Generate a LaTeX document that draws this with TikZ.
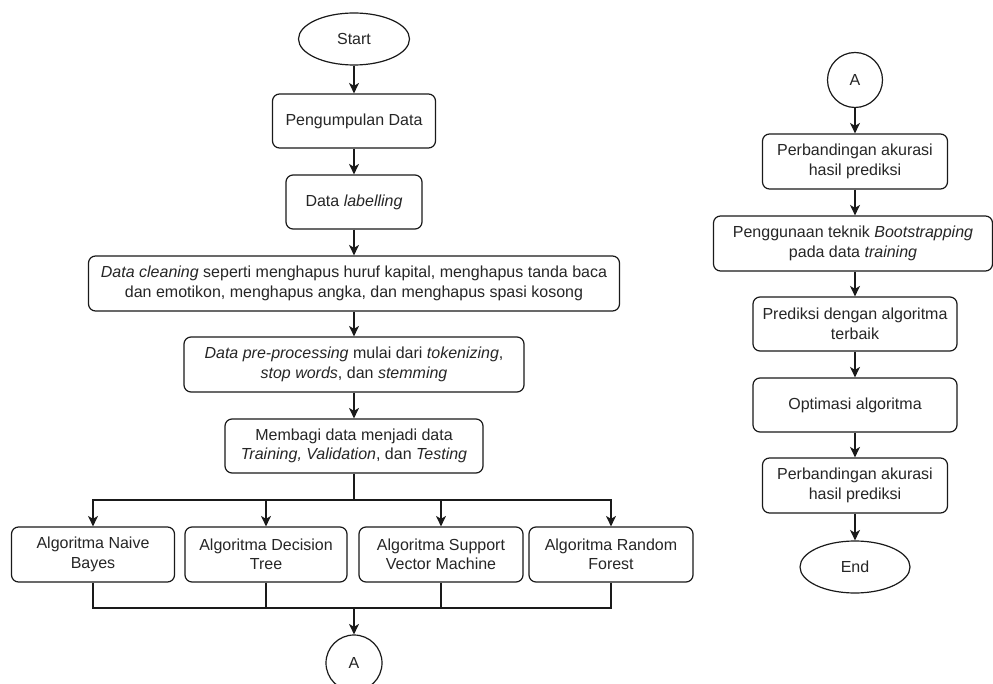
\documentclass[tikz,border=0pt]{standalone}
\usepackage{fontspec}
\setmainfont{Liberation Sans}
\usetikzlibrary{arrows.meta,shapes.geometric}
\definecolor{txt}{HTML}{262626}
\definecolor{ln}{HTML}{1A1A1A}
\begin{document}
\begin{tikzpicture}[x=1pt,y=-1pt,
  base/.style={draw=ln,line width=1.2pt,fill=white,align=center,inner sep=0pt,text=txt,
    font=\fontsize{16}{19.5}\selectfont},
  box/.style={base,rounded corners=7pt},
  term/.style={base,ellipse},
  conn/.style={base,circle,minimum size=#1},
  arr/.style={draw=ln,line width=1.3pt,-{Stealth[length=10.5pt,width=10pt,inset=3pt]}},
  lin/.style={draw=ln,line width=1.3pt}]
\clip (0,0) rectangle (993,684);
\fill[white] (0,0) rectangle (993,684);

% main column
\node[term,minimum width=111pt,minimum height=52pt] (start) at (354,39) {Start};
\node[box,minimum width=163pt,minimum height=54pt] (p1) at (354,121) {Pengumpulan Data};
\node[box,minimum width=136pt,minimum height=54pt] (p2) at (354,202) {Data \textit{labelling}};
\node[box,minimum width=531pt,minimum height=55pt] (p3) at (354,283.5)
  {\textit{Data cleaning} seperti menghapus huruf kapital, menghapus tanda baca\\dan emotikon, menghapus angka, dan menghapus spasi kosong};
\node[box,minimum width=340pt,minimum height=55pt] (p4) at (354,364.5)
  {\textit{Data pre-processing} mulai dari \textit{tokenizing},\\\textit{stop words}, dan \textit{stemming}};
\node[box,minimum width=258pt,minimum height=54pt] (p5) at (354,446)
  {Membagi data menjadi data\\\textit{Training, Validation}, dan \textit{Testing}};

\node[box,minimum width=163pt,minimum height=55pt] (b1) at (93,554.5) {Algoritma Naive\\Bayes};
\node[box,minimum width=162pt,minimum height=55pt] (b2) at (266,554.5) {Algoritma Decision\\Tree};
\node[box,minimum width=164pt,minimum height=55pt] (b3) at (441,554.5) {Algoritma Support\\Vector Machine};
\node[box,minimum width=164pt,minimum height=55pt] (b4) at (611,554.5) {Algoritma Random\\Forest};

\node[conn=56pt] (a1) at (354,663) {A};

\coordinate (br) at (354,500);
\coordinate (mg) at (354,608);

\draw[arr] (start) -- (p1);
\draw[arr] (p1) -- (p2);
\draw[arr] (p2) -- (p3);
\draw[arr] (p3) -- (p4);
\draw[arr] (p4) -- (p5);
\draw[lin] (p5) -- (br);
\draw[arr] (br) -| (b1.north);
\draw[arr] (br) -| (b2.north);
\draw[arr] (br) -| (b3.north);
\draw[arr] (br) -| (b4.north);
\draw[lin] (b1.south) |- (mg);
\draw[lin] (b2.south) |- (mg);
\draw[lin] (b3.south) |- (mg);
\draw[lin] (b4.south) |- (mg);
\draw[arr] (mg) -- (a1);

% right column
\node[conn=55pt] (a2) at (855,80) {A};
\node[box,minimum width=185pt,minimum height=55pt] (r1) at (855,161.5) {Perbandingan akurasi\\hasil prediksi};
\node[box,minimum width=279pt,minimum height=55pt] (r2) at (853,243.5)
  {Penggunaan teknik \textit{Bootstrapping}\\pada data \textit{training}};
\node[box,minimum width=204pt,minimum height=54pt] (r3) at (855,324) {Prediksi dengan algoritma\\terbaik};
\node[box,minimum width=204pt,minimum height=54pt] (r4) at (855,405) {Optimasi algoritma};
\node[box,minimum width=185pt,minimum height=55pt] (r5) at (855,485.5) {Perbandingan akurasi\\hasil prediksi};
\node[term,minimum width=110pt,minimum height=52pt] (end) at (855,567) {End};

\draw[arr] (a2) -- (r1);
\draw[arr] (r1.south) -- (r1.south |- r2.north);
\draw[arr] (r1.south |- r2.south) -- (r3.north);
\draw[arr] (r3) -- (r4);
\draw[arr] (r4) -- (r5);
\draw[arr] (r5) -- (end);
\end{tikzpicture}
\end{document}
